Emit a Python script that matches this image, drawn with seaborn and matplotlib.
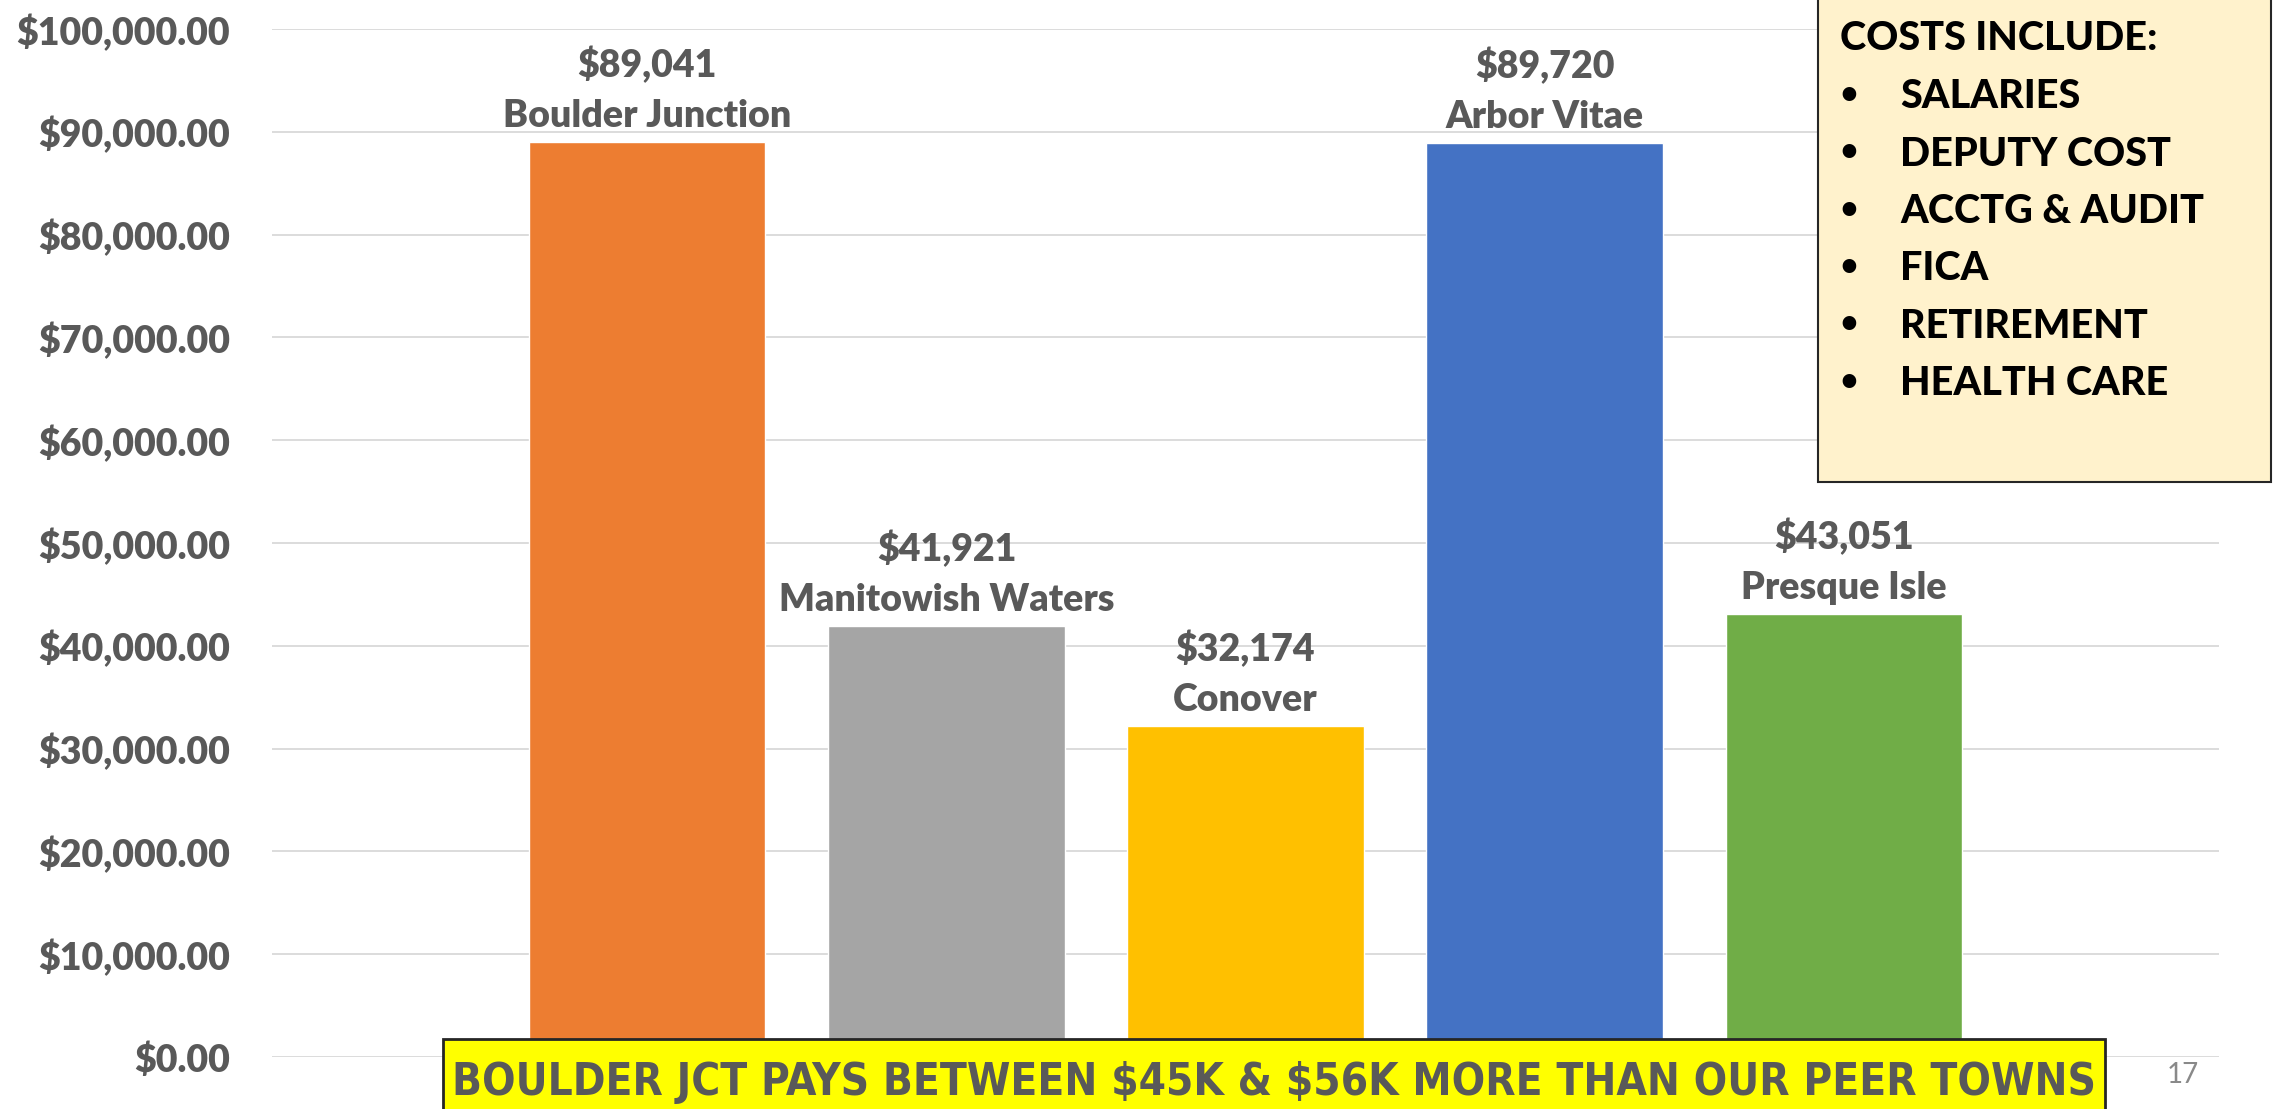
import matplotlib
matplotlib.use("Agg")
import matplotlib.pyplot as plt
from matplotlib.patches import Rectangle
from matplotlib.ticker import FuncFormatter
import seaborn as sns

# ---- data ----
towns = ["Boulder Junction", "Manitowish Waters", "Conover", "Arbor Vitae", "Presque Isle"]
costs = [89041, 41921, 32174, 88900, 43051]          # bar heights as drawn
cost_labels = ["$89,041", "$41,921", "$32,174", "$89,720", "$43,051"]
bar_colors = ["#ED7D31", "#A5A5A5", "#FFC000", "#4472C4", "#70AD47"]
y_ticks = [0, 10000, 20000, 30000, 40000, 50000, 60000, 70000, 80000, 90000, 100000]
box_title = "COSTS INCLUDE:"
box_items = ["SALARIES", "DEPUTY COST", "ACCTG & AUDIT", "FICA", "RETIREMENT", "HEALTH CARE"]
banner = "BOULDER JCT PAYS BETWEEN $45K & $56K MORE THAN OUR PEER TOWNS"
page_no = "17"

W, H = 2280, 1109
sns.set_theme(style="white")
plt.rcParams["font.family"] = ["Lato", "DejaVu Sans"]
plt.rcParams["text.parse_math"] = False

fig = plt.figure(figsize=(W / 100, H / 100), dpi=100)
ax = fig.add_axes([272 / W, 1 - 1057 / H, (2219 - 272) / W, (1057 - 29) / H])

sns.barplot(x=towns, y=costs, hue=towns, palette=bar_colors, legend=False,
            width=0.79, saturation=1, ax=ax, zorder=3)

ax.set_ylim(0, 100000)
ax.set_xlim(-1.255, 5.255)
ax.set_yticks(y_ticks)
ax.yaxis.set_major_formatter(FuncFormatter(lambda v, p: f"${v:,.2f}"))
ax.set_xticks([])
ax.set_xlabel("")
ax.set_ylabel("")
ax.grid(axis="y", color="#D9D9D9", linewidth=1.3, zorder=0)
ax.set_axisbelow(True)
for s in ax.spines.values():
    s.set_visible(False)
ax.tick_params(axis="y", length=0, pad=30, labelsize=27, labelcolor="#595959")
for t in ax.get_yticklabels():
    t.set_fontweight("heavy")

for i, (h, lab, name) in enumerate(zip(costs, cost_labels, towns)):
    ax.annotate(lab, (i, h), xytext=(0, 65), textcoords="offset pixels",
                ha="center", va="baseline", fontsize=27, fontweight="heavy",
                color="#595959", parse_math=False)
    ax.annotate(name, (i, h), xytext=(0, 15), textcoords="offset pixels",
                ha="center", va="baseline", fontsize=27, fontweight="heavy",
                color="#595959")

# ---- info box (top right) ----
fig.add_artist(Rectangle((1818 / W, 1 - 482 / H), (2271 - 1818) / W, (482 + 10) / H,
                         transform=fig.transFigure, facecolor="#FFF2CC",
                         edgecolor="#262626", linewidth=1.5, zorder=5))
fig.text(1840 / W, 1 - 38 / H, box_title, ha="left", va="center", fontsize=28.5,
         fontweight="black", color="black", zorder=6)
for k, item in enumerate(box_items):
    yy = 1 - (97 + 57.3 * k) / H
    fig.text(1849 / W, yy, "•", ha="center", va="center", fontsize=28,
             fontweight="bold", color="black", zorder=6, family=["DejaVu Sans"])
    fig.text(1900 / W, yy, item, ha="left", va="center", fontsize=28.5,
             fontweight="black", color="black", zorder=6)

# ---- banner (bottom) ----
fig.add_artist(Rectangle((443 / W, -0.02), (2105 - 443) / W, (1109 - 1039) / H + 0.02,
                         transform=fig.transFigure, facecolor="#FFFF00",
                         edgecolor="#262626", linewidth=2, zorder=5))
fig.text(1274 / W, 1 - 1083 / H, banner, ha="center", va="center", fontsize=31.6,
         fontweight="bold", fontstretch="condensed", color="#595959", zorder=6,
         family=["DejaVu Sans"], parse_math=False)

fig.text(2183 / W, 1 - 1075 / H, page_no, ha="center", va="center", fontsize=20,
         color="#898989", family=["Lato", "DejaVu Sans"])

fig.savefig("out.png", dpi=100)
